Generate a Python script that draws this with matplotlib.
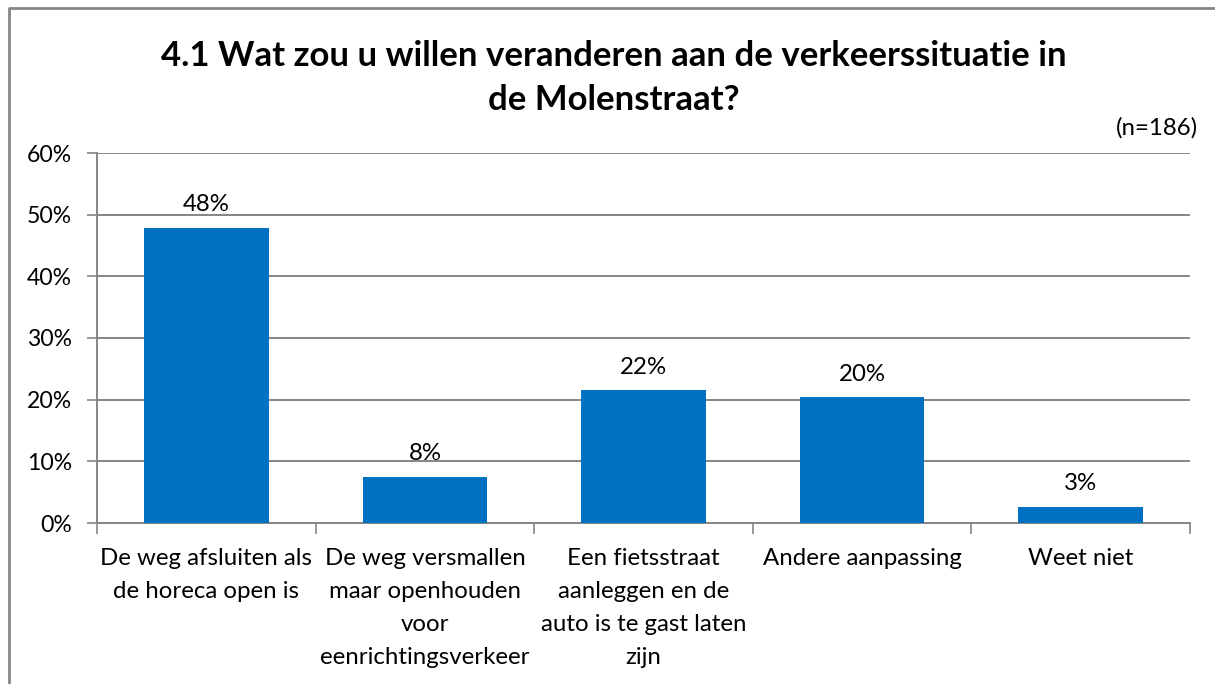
import matplotlib
matplotlib.use("Agg")
import matplotlib.pyplot as plt
from matplotlib.lines import Line2D
from matplotlib.ticker import FixedLocator, NullFormatter

categories = [
    "De weg afsluiten als\nde horeca open is",
    "De weg versmallen\nmaar openhouden\nvoor\neenrichtingsverkeer",
    "Een fietsstraat\naanleggen en de\nauto is te gast laten\nzijn",
    "Andere aanpassing",
    "Weet niet",
]
values = [47.9, 7.5, 21.5, 20.4, 2.6]
labels = ["48%", "8%", "22%", "20%", "3%"]
yticks = [0, 10, 20, 30, 40, 50, 60]
title = "4.1 Wat zou u willen veranderen aan de verkeerssituatie in\nde Molenstraat?"
note = "(n=186)"

plt.rcParams['font.family'] = ['Lato', 'DejaVu Sans']

W, H = 1215, 684
fig = plt.figure(figsize=(W / 100, H / 100), dpi=100)
ax = fig.add_axes([97 / W, 1 - 523 / H, (1190 - 97) / W, (523 - 153) / H])

grid_c = "#868686"
fs = 17.3
x = list(range(len(categories)))
ax.bar(x, values, width=0.57, color="#0070C0", zorder=3)
for xi, v, lab in zip(x, values, labels):
    ax.annotate(lab, (xi, v), xytext=(0, 9), textcoords="offset points",
                ha="center", va="bottom", fontsize=fs, color="#000000")

ax.set_xlim(-0.5, len(categories) - 0.5)
ax.set_ylim(0, 60)
ax.set_yticks(yticks)
ax.set_yticklabels([f"{t}%" for t in yticks], fontsize=16.6)
ax.yaxis.grid(True, color=grid_c, linewidth=1.4, zorder=0)
ax.tick_params(axis="y", length=7, width=1.2, color=grid_c, pad=11)

ax.xaxis.set_major_locator(FixedLocator([i - 0.5 for i in range(len(categories) + 1)]))
ax.xaxis.set_major_formatter(NullFormatter())
ax.tick_params(axis="x", length=8, width=1.2, color=grid_c)
for xi, c in zip(x, categories):
    ax.annotate(c, (xi, 0), xycoords=("data", "axes fraction"), xytext=(0, -18),
                textcoords="offset points", ha="center", va="top",
                fontsize=fs, linespacing=1.7)

for s in ["top", "right"]:
    ax.spines[s].set_visible(False)
for s in ["left", "bottom"]:
    ax.spines[s].set_color(grid_c)
    ax.spines[s].set_linewidth(1.4)

fig.text(614 / W, 1 - 78 / H, title, ha="center", va="center", fontsize=25,
         fontweight="bold", linespacing=1.45)
fig.text(1198 / W, 1 - 128 / H, note, ha="right", va="center", fontsize=fs)

fig.add_artist(Line2D([9 / W, 9 / W, 1.0], [0.0, 1 - 8 / H, 1 - 8 / H],
                      transform=fig.transFigure, color="#868686", linewidth=2))

fig.savefig("out.png", dpi=100)
